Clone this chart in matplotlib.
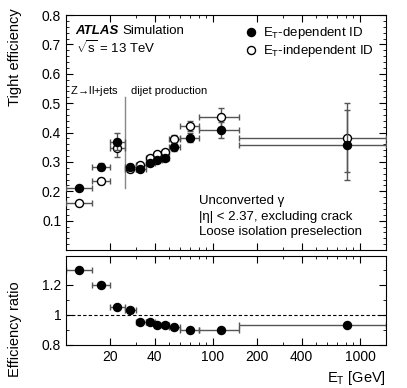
import matplotlib
matplotlib.use("Agg")
import matplotlib.pyplot as plt
from matplotlib.lines import Line2D
from matplotlib.ticker import FixedLocator, NullFormatter, MultipleLocator
import numpy as np

plt.rcParams['font.family'] = ['Liberation Sans', 'DejaVu Sans']
plt.rcParams['mathtext.fontset'] = 'custom'
plt.rcParams['mathtext.rm'] = 'Liberation Sans'
plt.rcParams['mathtext.it'] = 'Liberation Sans:italic'

# bins in E_T [GeV]
bin_lo = np.array([10, 15, 20, 25, 30, 35, 40, 45, 50, 60, 80, 150])
bin_hi = np.array([15, 20, 25, 30, 35, 40, 45, 50, 60, 80, 150, 1500])
et = np.array([12.3, 17.3, 22.3, 27.2, 32.1, 37.1, 41.9, 46.9, 53.9, 69.3, 113.7, 820])

# tight efficiency, E_T-dependent ID
eff_dep = np.array([0.210, 0.284, 0.369, 0.284, 0.275, 0.297, 0.306, 0.312, 0.350, 0.382, 0.409, 0.357])
err_dep = np.array([0.006, 0.012, 0.030, 0.008, 0.007, 0.007, 0.007, 0.008, 0.013, 0.016, 0.027, 0.118])
# tight efficiency, E_T-independent ID
eff_ind = np.array([0.159, 0.235, 0.348, 0.275, 0.289, 0.312, 0.327, 0.334, 0.378, 0.422, 0.452, 0.382])
err_ind = np.array([0.005, 0.010, 0.030, 0.008, 0.007, 0.007, 0.007, 0.008, 0.012, 0.016, 0.033, 0.118])
# ratio dep / indep
ratio = np.array([1.30, 1.20, 1.05, 1.03, 0.95, 0.953, 0.93, 0.93, 0.92, 0.90, 0.90, 0.933])

xerr = [et - bin_lo, bin_hi - et]
ecol = '#555555'
ms = 5.8

fig = plt.figure(figsize=(4.07, 3.88), dpi=100)
ax = fig.add_axes([66/407, 1 - 250/388, 320/407, 235/388])
axr = fig.add_axes([66/407, 1 - 345/388, 320/407, 89/388])

ax.errorbar(et, eff_ind, xerr=xerr, yerr=err_ind, fmt='o', mfc='white', mec='black',
            ms=ms, mew=1, ecolor=ecol, elinewidth=1, capsize=2.2, zorder=3)
ax.errorbar(et, eff_dep, xerr=xerr, yerr=err_dep, fmt='o', color='black',
            ms=ms, ecolor=ecol, elinewidth=1, capsize=2.2, zorder=4)
axr.errorbar(et, ratio, xerr=xerr, fmt='o', color='black', ms=ms,
             ecolor=ecol, elinewidth=1, capsize=2.2)
axr.axhline(1.0, color='black', lw=0.8, ls=(0, (3, 2)))

# Z->ll / dijet separation
ax.plot([25, 25], [0.21, 0.52], color='#888888', lw=1)
ax.text(10.7, 0.53, r'Z$\!\rightarrow\!$ll+jets', fontsize=8)
ax.text(27.8, 0.53, 'dijet production', fontsize=8)

for a in (ax, axr):
    a.set_xscale('log')
    a.set_xlim(10, 1500)
    a.xaxis.set_major_locator(FixedLocator([20, 40, 100, 200, 400, 1000]))
    minors = [m * 10**d for d in range(1, 4) for m in range(1, 10)]
    a.xaxis.set_minor_locator(FixedLocator(minors))
    a.xaxis.set_minor_formatter(NullFormatter())
    a.tick_params(which='both', direction='in', top=True, right=True, labelsize=10)
    a.tick_params(which='major', length=5)
    a.tick_params(which='minor', length=2.5)

ax.set_ylim(0, 0.8)
ax.yaxis.set_major_locator(FixedLocator([0.1, 0.2, 0.3, 0.4, 0.5, 0.6, 0.7, 0.8]))
ax.yaxis.set_minor_locator(MultipleLocator(0.02))
ax.set_yticklabels(['0.1', '0.2', '0.3', '0.4', '0.5', '0.6', '0.7', '0.8'])
ax.xaxis.set_major_formatter(NullFormatter())

axr.set_ylim(0.8, 1.39)
axr.yaxis.set_major_locator(FixedLocator([0.8, 1.0, 1.2]))
axr.set_yticklabels(['0.8', '1', '1.2'])
axr.yaxis.set_minor_locator(MultipleLocator(0.1))
axr.set_xticklabels(['20', '40', '100', '200', '400', '1000'])

fig.text(15/407, 1 - 8/388, 'Tight efficiency', rotation=90, ha='center', va='top', fontsize=10.5)
fig.text(15/407, 1 - 329/388, 'Efficiency ratio', rotation=90, ha='center', va='center', fontsize=10.5)
fig.text(386/407, 1 - 378/388, r'E$_\mathregular{T}$ [GeV]', ha='right', va='center', fontsize=10.5)

# labels
ax.text(0.03, 0.93, 'ATLAS', transform=ax.transAxes, fontsize=9.5, fontweight='bold',
        style='italic', va='center')
ax.text(0.175, 0.93, 'Simulation', transform=ax.transAxes, fontsize=9.5, va='center')
ax.text(0.03, 0.86, r'$\sqrt{\mathregular{s}}$ = 13 TeV', transform=ax.transAxes,
        fontsize=9.5, va='center')

ax.text(0.415, 0.21, 'Unconverted γ', transform=ax.transAxes, fontsize=9.5, va='center')
ax.text(0.415, 0.14, '|η| < 2.37, excluding crack', transform=ax.transAxes, fontsize=9.5, va='center')
ax.text(0.415, 0.075, 'Loose isolation preselection', transform=ax.transAxes, fontsize=9.5, va='center')

handles = [Line2D([], [], ls='none', marker='o', color='black', ms=ms),
           Line2D([], [], ls='none', marker='o', mfc='white', mec='black', ms=ms)]
ax.legend(handles, [r'E$_\mathregular{T}$-dependent ID', r'E$_\mathregular{T}$-independent ID'],
          loc='upper right', bbox_to_anchor=(0.985, 0.99), frameon=False, fontsize=9.5,
          handletextpad=0.1, handlelength=1.5, labelspacing=0.15, borderaxespad=0.2)

fig.savefig('out.png', dpi=100)
